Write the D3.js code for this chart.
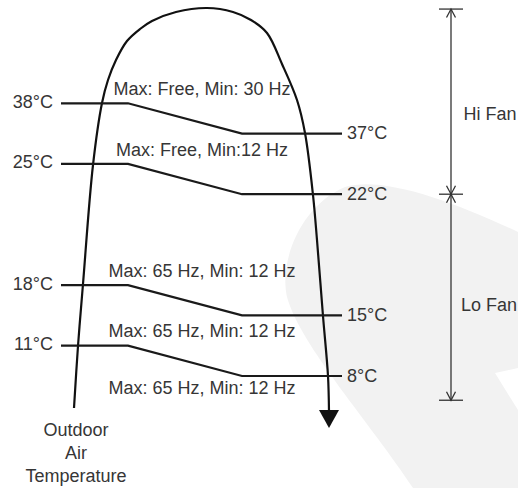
<!DOCTYPE html>
<html>
<head>
<meta charset="utf-8">
<script src="https://cdn.jsdelivr.net/npm/d3@7"></script>
<style>
  html, body { margin: 0; padding: 0; background: #ffffff; }
  svg { display: block; }
  text { font-family: "Liberation Sans", Arial, Helvetica, sans-serif; font-size: 18px; fill: #363636; }
</style>
</head>
<body>
<div id="chart"></div>
<script>
// ---------------- data ----------------
const enterTemps = ["38°C", "25°C", "18°C", "11°C"];   // switch-on temperature (left)
const exitTemps  = ["37°C", "22°C", "15°C", "8°C"];    // switch-off temperature (right)
const modeLabels = [
  "Max: Free, Min: 30 Hz",
  "Max: Free, Min:12 Hz",
  "Max: 65 Hz, Min: 12 Hz",
  "Max: 65 Hz, Min: 12 Hz",
  "Max: 65 Hz, Min: 12 Hz"
];
const fanBands = ["Hi Fan", "Lo Fan"];
const axisTitle = ["Outdoor", "Air", "Temperature"];

// ---------------- layout ----------------
const W = 518, H = 488;
// vertical schematic rows (each row = one temperature step in the drawing)
const enterRows = [0, 2, 6, 8];
const exitRows  = [1, 3, 7, 9];
const modeRows  = [-0.27, 1.75, 5.72, 7.72, 9.6];
const fanBounds = [-3.11, 3, 9.8];      // dimension line ends / divider
const fanLabelRows = [0.55, 6.85];

const y = d3.scaleLinear().domain([0, 9]).range([103.3, 376]);

const lineX = { start: 61, bend1: 128, bend2: 242, end: 342 };

const svg = d3.select("#chart").append("svg")
  .attr("width", W).attr("height", H);

// background swoosh
svg.append("path")
  .attr("d", "M 413 488 C 372 425, 300 345, 287 297 C 279 262, 300 206, 345 187 C 382 176, 450 200, 518 232 L 518 368 L 495 373 L 518 410 L 518 488 Z")
  .attr("fill", "#f2f2f2");

// loop curve (outdoor air temperature path)
const loopPts = [
  [74, 408], [78, 346], [83, 284], [93, 165], [102, 103], [108, 80], [116, 60],
  [127, 41], [140, 29], [152, 21], [176, 12], [207, 8], [233, 12], [251, 20],
  [267, 33], [282, 64], [297, 100], [305, 133], [313, 195], [317, 240],
  [323, 316], [328, 376], [329, 412]
];
svg.append("path")
  .attr("d", d3.line().curve(d3.curveCatmullRom.alpha(0.5))(loopPts))
  .attr("fill", "none").attr("stroke", "#111").attr("stroke-width", 2.2);

// arrow head
svg.append("path")
  .attr("d", "M 319 410 L 339 410 L 329 428 Z")
  .attr("fill", "#111");

// transition lines
const trans = enterTemps.map((t, i) => ({ from: t, to: exitTemps[i], y0: y(enterRows[i]), y1: y(exitRows[i]) }));
const lineGen = d => [
  [lineX.start, d.y0], [lineX.bend1, d.y0], [lineX.bend2, d.y1], [lineX.end, d.y1]
];
svg.selectAll("path.trans").data(trans).join("path")
  .attr("class", "trans")
  .attr("d", d => d3.line()(lineGen(d)))
  .attr("fill", "none").attr("stroke", "#1a1a1a").attr("stroke-width", 2.2)
  .attr("stroke-linejoin", "miter");

svg.selectAll("text.from").data(trans).join("text")
  .attr("class", "from")
  .attr("x", 53).attr("y", d => d.y0 + 4.5)
  .attr("text-anchor", "end")
  .text(d => d.from);

svg.selectAll("text.to").data(trans).join("text")
  .attr("class", "to")
  .attr("x", 347).attr("y", d => d.y1 + 5.5)
  .text(d => d.to);

// mode labels
svg.selectAll("text.mode").data(modeLabels).join("text")
  .attr("class", "mode")
  .attr("x", 202).attr("y", (d, i) => y(modeRows[i]))
  .attr("text-anchor", "middle")
  .text(d => d);

// fan dimension line
const dimX = 451;
const dimG = svg.append("g").attr("stroke", "#333").attr("stroke-width", 1.3).attr("fill", "none");
const yTop = y(fanBounds[0]), yMid = y(fanBounds[1]), yBot = y(fanBounds[2]);
dimG.append("line").attr("x1", dimX).attr("x2", dimX).attr("y1", yTop).attr("y2", yBot);
[yTop, yMid, yBot].forEach(yy => {
  dimG.append("line").attr("x1", dimX - 12).attr("x2", dimX + 12).attr("y1", yy).attr("y2", yy);
});
const chevron = (yy, dir) => `M ${dimX - 4.5} ${yy + dir * 8.5} L ${dimX} ${yy} L ${dimX + 4.5} ${yy + dir * 8.5}`;
dimG.append("path").attr("d", chevron(yTop, 1));
dimG.append("path").attr("d", chevron(yMid, -1));
dimG.append("path").attr("d", chevron(yMid, 1));
dimG.append("path").attr("d", chevron(yBot, -1));

svg.selectAll("text.fan").data(fanBands).join("text")
  .attr("class", "fan")
  .attr("x", (d, i) => i === 0 ? 463.5 : 461)
  .attr("y", (d, i) => y(fanLabelRows[i]))
  .text(d => d);

// axis title
svg.selectAll("text.title").data(axisTitle).join("text")
  .attr("class", "title")
  .attr("x", 76).attr("y", (d, i) => 436 + i * 23)
  .attr("text-anchor", "middle")
  .text(d => d);
</script>
</body>
</html>
